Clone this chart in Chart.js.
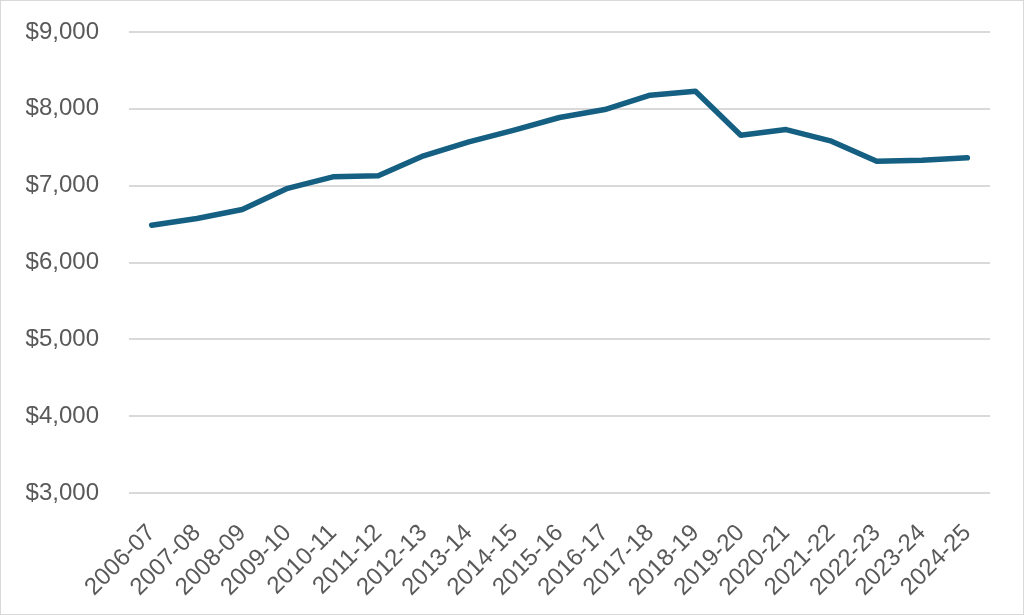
<!DOCTYPE html>
<html>
<head>
<meta charset="utf-8">
<script src="https://cdn.jsdelivr.net/npm/chart.js@4/dist/chart.umd.min.js"></script>
<style>
  html, body { margin: 0; padding: 0; background: #fff; }
  #wrap { width: 1022px; height: 613px; border: 1px solid #d9d9d9; }
</style>
</head>
<body>
<div id="wrap"><canvas id="chart" width="1022" height="613"></canvas></div>
<script>
// school years
var years = ['2006-07','2007-08','2008-09','2009-10','2010-11','2011-12','2012-13',
             '2013-14','2014-15','2015-16','2016-17','2017-18','2018-19','2019-20',
             '2020-21','2021-22','2022-23','2023-24','2024-25'];

// dollars
var spending = [6486, 6573, 6690, 6965, 7115, 7128, 7388,
                7570, 7722, 7887, 7991, 8177, 8229, 7657,
                7730, 7579, 7319, 7332, 7362];

var yMin = 3000, yMax = 9000, yStep = 1000;

var lineColor = '#156082';
var gridColor = '#d9d9d9';
var textColor = '#595959';
var fontFam = 'Liberation Sans';

function money(v){
    return '$' + v.toLocaleString('en-US');
}

var ctx = document.getElementById('chart');
var chart = new Chart(ctx, {
    type: 'line',
    data: {
        labels: years,
        datasets: [{
            data: spending,
            borderColor: lineColor,
            borderWidth: 5.5,
            borderCapStyle: 'round',
            borderJoinStyle: 'round',
            pointRadius: 0,
            tension: 0,
            fill: false
        }]
    },
    options: {
        responsive: false,
        animation: false,
        layout: { padding: { left: 0, right: 33, top: 31, bottom: 0 } },
        plugins: {
            legend: { display: false },
            tooltip: { enabled: false }
        },
        scales: {
            x: {
                offset: true,
                grid: { display: false },
                border: { display: false },
                afterFit: function(s){ s.height = 121; },
                ticks: {
                    color: textColor,
                    font: { family: fontFam, size: 24 },
                    maxRotation: 45,
                    minRotation: 45,
                    padding: 18,
                    autoSkip: false
                }
            },
            y: {
                min: yMin,
                max: yMax,
                grid: { color: gridColor, lineWidth: 2, drawTicks: false },
                border: { display: false },
                afterFit: function(s){
                    s.width = 128;
                    // tick padding otherwise pushes the plot top down
                    s.paddingTop = 0;
                    s.paddingBottom = 0;
                },
                ticks: {
                    stepSize: yStep,
                    color: textColor,
                    font: { family: fontFam, size: 24 },
                    padding: 30,
                    callback: function(v){ return money(v); }
                }
            }
        }
    }
});
</script>
</body>
</html>
